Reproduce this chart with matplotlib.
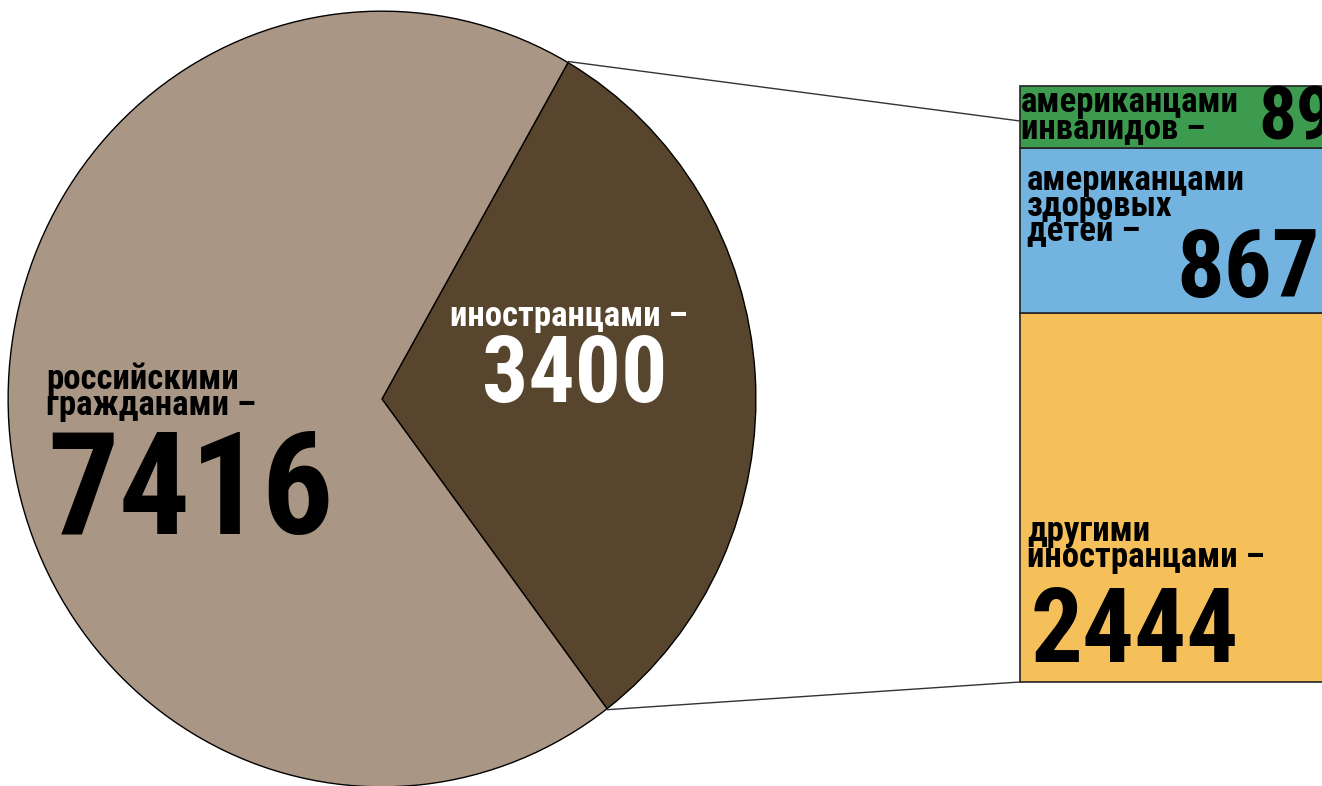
import numpy as np
import matplotlib.pyplot as plt

# data
pie_labels = ['иностранцами –', 'российскими\nгражданами –']
pie_values = [3400, 7416]
pie_colors = ['#57462d', '#aa9684']

bar_labels = ['другими\nиностранцами –', 'американцами\nздоровых\nдетей –', 'американцами\nинвалидов –']
bar_values = [2444, 867, 89]
bar_colors = ['#f5c05a', '#72b3e0', '#3d9b4f']
bar_heights = [369, 165, 62]   # drawn heights (not proportional in the original)

W, H = 1322, 786
FONT = ['Roboto Condensed', 'DejaVu Sans']

fig = plt.figure(figsize=(W / 100, H / 100), dpi=100)

# pie sits in its own axes (slightly taller than wide, like the original)
cx, cy, rx, ry = 382, H - 399, 375, 389
pax = fig.add_axes([(cx - rx) / W, (cy - ry) / H, 2 * rx / W, 2 * ry / H])
start = -53.0
pax.pie(pie_values, startangle=start, radius=1, colors=pie_colors,
        wedgeprops=dict(edgecolor='black', linewidth=1.0))
pax.set_aspect('auto')
pax.set_xlim(-1.003, 1.003)
pax.set_ylim(-1.003, 1.003)
pax.axis('off')

ax = fig.add_axes([0, 0, 1, 1])
ax.patch.set_alpha(0)

# stacked bar on the right
bx, bw = 1020, 340
bottom = H - 682
for h, c in zip(bar_heights, bar_colors):
    ax.bar(bx, h, width=bw, bottom=bottom, align='edge', color=c, edgecolor='#222222', linewidth=1.2)
    bottom += h

# connector lines from the foreign slice to the bar
a1 = np.deg2rad(start + 360 * pie_values[0] / sum(pie_values))
a0 = np.deg2rad(start)
ax.plot([cx + rx * np.cos(a1), bx], [cy + ry * np.sin(a1), H - 121], color='#333333', lw=1)
ax.plot([cx + rx * np.cos(a0), bx], [cy + ry * np.sin(a0), H - 682], color='#333333', lw=1)

ax.set_xlim(0, W)
ax.set_ylim(0, H)
ax.axis('off')

big = dict(family=FONT, weight='bold', va='baseline', ha='left')


def label(x, y, s, size, color='black', ls=0.72):
    ax.text(x, H - y, s, color=color, fontsize=size, family=FONT, weight='bold',
            linespacing=ls, va='top', ha='left')


# pie texts
label(450, 300, pie_labels[0], 25, color='white')
ax.text(482, H - 402, str(pie_values[0]), color='white', fontsize=66, **big)
label(46, 363, pie_labels[1], 25)
ax.text(47, H - 534, str(pie_values[1]), color='black', fontsize=102, **big)

# bar texts
label(1021, 86, bar_labels[2], 25)
ax.text(1258, H - 140, str(bar_values[2]), color='black', fontsize=54, **big)
label(1027, 164, bar_labels[1], 25)
ax.text(1176, H - 297, str(bar_values[1]), color='black', fontsize=68, **big)
label(1027, 515, bar_labels[0], 25)
ax.text(1030, H - 662, str(bar_values[0]), color='black', fontsize=74, **big)

fig.savefig('out.png', dpi=100, facecolor='white')
